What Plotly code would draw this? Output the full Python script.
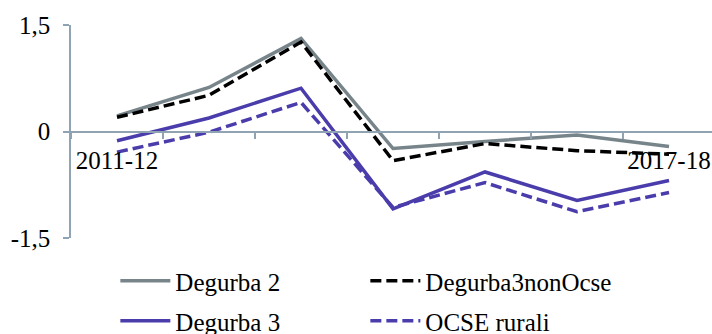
import plotly.graph_objects as go

# School years on the category axis
years = ["2011-12", "2012-13", "2013-14", "2014-15", "2015-16", "2016-17", "2017-18"]
year_labels = ["2011-12", "", "", "", "", "", "2017-18"]

# Series values
degurba2 = [0.22, 0.62, 1.31, -0.24, -0.14, -0.05, -0.21]
degurba3 = [-0.13, 0.19, 0.61, -1.09, -0.57, -0.97, -0.69]
degurba3_non_ocse = [0.20, 0.51, 1.26, -0.41, -0.17, -0.27, -0.32]
ocse_rurali = [-0.29, -0.01, 0.41, -1.07, -0.72, -1.13, -0.86]

y_ticks = [-1.5, 0, 1.5]
y_tick_text = ["-1,5", "0", "1,5"]

GRAY = "#77858a"
BLUE = "#4a3dab"
BLACK = "#000000"
AXIS = "#8fa3b3"
FONT = "'Liberation Serif', 'Times New Roman', Tinos, serif"

fig = go.Figure()
fig.add_trace(go.Scatter(x=years, y=degurba2, name="Degurba 2", mode="lines",
                         line=dict(color=GRAY, width=3.5), legend="legend"))
fig.add_trace(go.Scatter(x=years, y=degurba3_non_ocse, name="Degurba3nonOcse", mode="lines",
                         line=dict(color=BLACK, width=3.5, dash="11px,5px"), legend="legend"))
fig.add_trace(go.Scatter(x=years, y=degurba3, name="Degurba 3", mode="lines",
                         line=dict(color=BLUE, width=3.5), legend="legend2"))
fig.add_trace(go.Scatter(x=years, y=ocse_rurali, name="OCSE rurali", mode="lines",
                         line=dict(color=BLUE, width=3.5, dash="11px,5px"), legend="legend2"))

legend_common = dict(
    orientation="h", xref="container", yref="container", x=0.162,
    xanchor="left", yanchor="middle", entrywidth=185, itemwidth=50,
    font=dict(family=FONT, size=25, color="#000000"), bgcolor="rgba(0,0,0,0)",
)

fig.update_layout(
    width=712, height=334,
    margin=dict(l=71, r=0, t=25, b=96, autoexpand=False),
    paper_bgcolor="white", plot_bgcolor="white",
    font=dict(family=FONT, size=25, color="#000000"),
    showlegend=True,
    legend=dict(legend_common, y=1 - 281 / 334),
    legend2=dict(legend_common, y=1 - 321 / 334),
    xaxis=dict(
        type="category", categoryorder="array", categoryarray=years,
        range=[-0.5, 6.467],
        tickvals=years, ticktext=year_labels, tickson="boundaries",
        ticks="outside", ticklen=7, tickcolor=AXIS, tickwidth=1.5,
        showline=True, linecolor=AXIS, linewidth=1.5,
        showgrid=False, zeroline=False,
        anchor="free", position=0.5, ticklabelstandoff=7,
        tickfont=dict(family=FONT, size=25),
    ),
    yaxis=dict(
        range=[-1.5, 1.5], tickvals=y_ticks, ticktext=y_tick_text,
        ticks="outside", ticklen=6, tickcolor=AXIS, tickwidth=1.5,
        showline=True, linecolor=AXIS, linewidth=1.5,
        showgrid=False, zeroline=False, ticklabelstandoff=8,
        tickfont=dict(family=FONT, size=25),
    ),
)

fig.write_html("out.html")
